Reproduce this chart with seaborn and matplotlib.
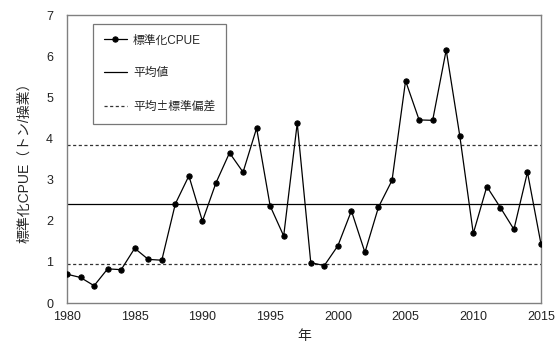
import numpy as np
import pandas as pd
import matplotlib
matplotlib.use("Agg")
import matplotlib.pyplot as plt
import seaborn as sns

years = list(range(1980, 2016))
cpue = [0.70, 0.62, 0.42, 0.83, 0.81, 1.33, 1.06, 1.04, 2.41, 3.09,
        1.99, 2.92, 3.65, 3.18, 4.25, 2.36, 1.63, 4.37, 0.98, 0.91,
        1.39, 2.24, 1.23, 2.33, 2.98, 5.40, 4.45, 4.44, 6.15, 4.07,
        1.69, 2.83, 2.32, 1.79, 3.18, 1.43]
mean_value = 2.40
upper_value = 3.85
lower_value = 0.95

x_ticks = [1980, 1985, 1990, 1995, 2000, 2005, 2010, 2015]
y_ticks = [0, 1, 2, 3, 4, 5, 6, 7]

label_series = "標準化CPUE"
label_mean = "平均値"
label_sd = "平均±標準偏差"
x_label = "年"
y_label = "標準化CPUE（トン/操業）"

sns.set_style("white")
plt.rcParams["font.family"] = ["Liberation Sans", "Noto Sans CJK JP", "DejaVu Sans"]

df = pd.DataFrame({"year": years, "cpue": cpue})

fig = plt.figure(figsize=(5.55, 3.45), dpi=100)
ax = fig.add_axes([67 / 555, 1 - 303 / 345, (541 - 67) / 555, (303 - 15) / 345])

sns.lineplot(data=df, x="year", y="cpue", ax=ax, color="black", lw=0.9,
             marker="o", markersize=3.8, markeredgecolor="black",
             label=label_series, zorder=3)
ax.axhline(mean_value, color="black", lw=0.9, label=label_mean)
ax.axhline(upper_value, color="#333333", lw=0.9, ls=(0, (2.5, 2)), label=label_sd)
ax.axhline(lower_value, color="#333333", lw=0.9, ls=(0, (2.5, 2)))

ax.set_xlim(1980, 2015)
ax.set_ylim(0, 7)
ax.set_xticks(x_ticks)
ax.set_yticks(y_ticks)
ax.tick_params(axis="x", labelsize=9, colors="#222222", length=0, pad=6)
ax.tick_params(axis="y", labelsize=9, colors="#222222", length=0, pad=10)
for s in ax.spines.values():
    s.set_color("#808080")
    s.set_linewidth(1.0)

ax.set_xlabel(x_label, fontsize=10, labelpad=4)
ax.set_ylabel(y_label, fontsize=10, labelpad=11)

leg = ax.legend(loc="upper left", bbox_to_anchor=(26 / 474, 1 - 9 / 288),
                fontsize=8.5, frameon=True, fancybox=False, edgecolor="#555555",
                handlelength=2.0, handletextpad=0.5, labelspacing=1.75,
                borderpad=0.9, borderaxespad=0)
leg.get_frame().set_linewidth(0.9)
leg.get_texts()[2].set_fontfamily(["Noto Sans CJK JP", "DejaVu Sans"])

fig.savefig("out.png", dpi=100)
